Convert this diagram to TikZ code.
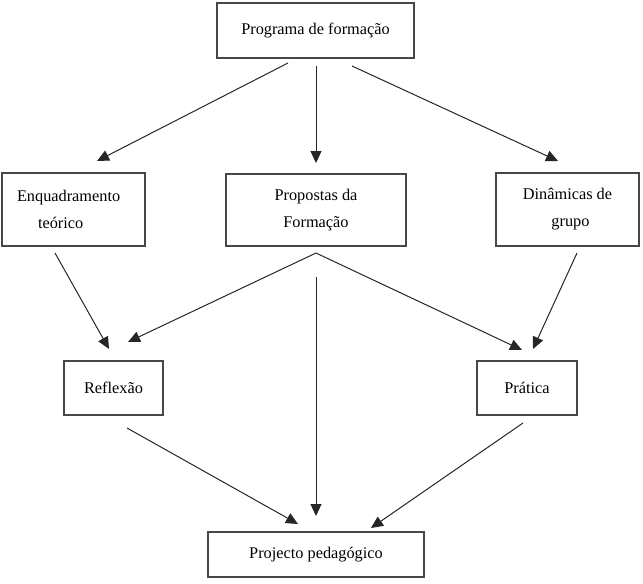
\documentclass[tikz,border=0pt]{standalone}
\usepackage{fontspec}
\setmainfont{Liberation Serif}
\usetikzlibrary{arrows.meta}
\tikzset{
  box/.style={draw=black!72, line width=1.3pt, rectangle, inner sep=0pt, align=center,
    font={\fontsize{16.3}{27}\selectfont}},
  conn/.style={draw=black!85, line width=1pt, -{Triangle[length=12pt,width=11pt]}},
}
\begin{document}
\begin{tikzpicture}[x=1pt,y=-1pt]
\useasboundingbox (0,0) rectangle (643,584);
% boxes
\node[box, minimum width=197pt, minimum height=55pt] (prog) at (315.5,30.5) {Programa de formação};
\node[box, minimum height=73pt, text width=113pt, inner xsep=15pt, align=left] (enq) at (73.5,209.5)
  {Enquadramento\\\hspace*{21pt}teórico};
\node[box, minimum width=180pt, minimum height=72pt] (prop) at (316,210) {Propostas da\\Formação};
\node[box, minimum width=143pt, minimum height=73pt] (din) at (567.5,209.5) {Dinâmicas de\\\hspace*{6pt}grupo};
\node[box, minimum width=99pt, minimum height=54pt] (refl) at (113.5,388) {Reflexão};
\node[box, minimum width=100pt, minimum height=54pt] (prat) at (527,388) {Prática};
\node[box, minimum width=216pt, minimum height=45pt] (proj) at (316,554.5) {Projecto pedagógico};
% connector end points
\coordinate (pL) at (288,63);
\coordinate (pC) at (316,66);
\coordinate (pR) at (352,66);
\coordinate (enqT) at (97,161);
\coordinate (propT) at (316,163);
\coordinate (dinT) at (558,161);
\coordinate (enqB) at (55,253);
\coordinate (refT1) at (109,349);
\coordinate (apex) at (316,253);
\coordinate (refT2) at (128,342);
\coordinate (pratT1) at (522,350);
\coordinate (dinB) at (577,253);
\coordinate (pratT2) at (533,349);
\coordinate (propB) at (316,277);
\coordinate (projT) at (316,516);
\coordinate (reflB) at (127,428);
\coordinate (projL) at (298,524);
\coordinate (pratB) at (523,423);
\coordinate (projR) at (371,528);
% connectors
\draw[conn] (pL) -- (enqT);
\draw[conn] (pC) -- (propT);
\draw[conn] (pR) -- (dinT);
\draw[conn] (enqB) -- (refT1);
\draw[conn] (apex) -- (refT2);
\draw[conn] (apex) -- (pratT1);
\draw[conn] (dinB) -- (pratT2);
\draw[conn] (propB) -- (projT);
\draw[conn] (reflB) -- (projL);
\draw[conn] (pratB) -- (projR);
\end{tikzpicture}
\end{document}
